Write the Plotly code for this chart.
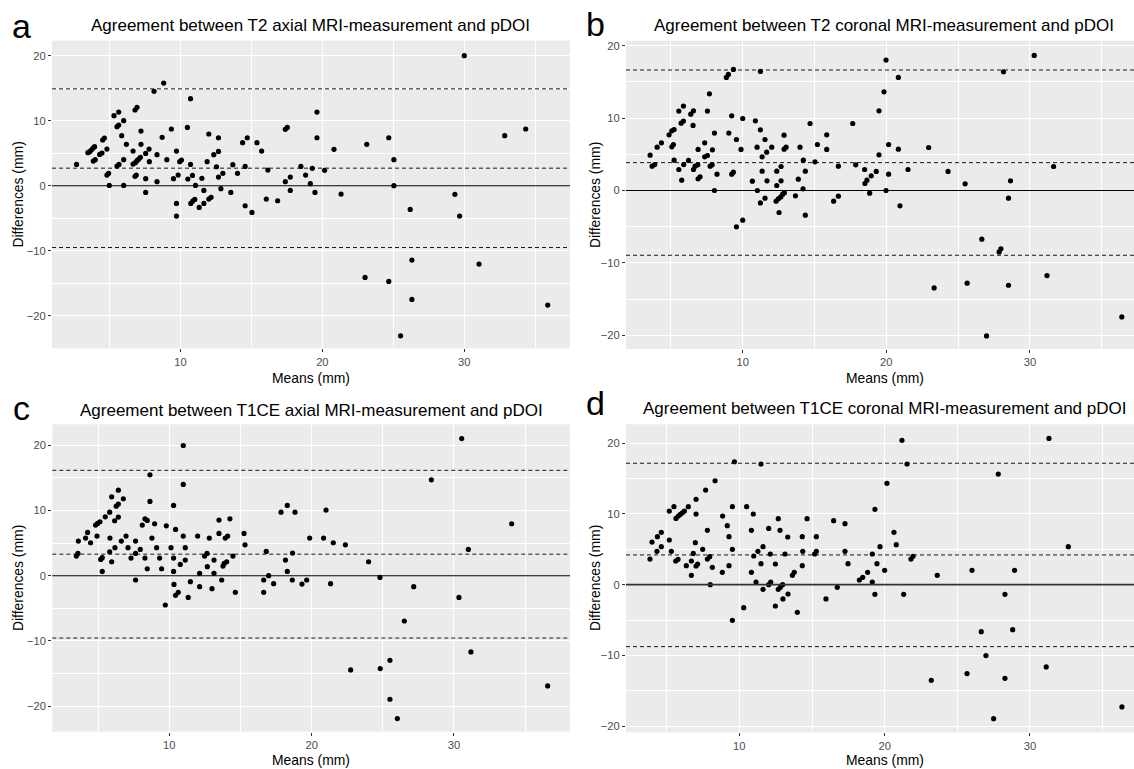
import plotly.graph_objects as go

# ---------------- data (mean, difference) ----------------
a_pairs = [(2.68,3.28),(3.48,5.08),(3.6,5.23),(3.72,5.49),(3.84,5.79),(3.95,6.0),(3.86,3.79),(4.0,4.0),
(4.31,4.82),(4.47,5.03),(4.52,7.03),(4.64,7.33),(4.82,5.64),(4.82,1.64),(4.94,1.9),(4.99,0.05),
(5.32,10.77),(5.65,11.33),(5.53,9.08),(5.65,9.33),(5.86,7.69),(6.0,10.0),(5.53,3.03),(5.67,3.28),
(6.0,4.0),(6.0,0.05),(6.19,6.36),(6.66,5.33),(6.66,3.33),(6.8,1.44),(6.89,1.64),(6.8,11.64),
(6.94,12.05),(6.82,3.54),(6.94,3.85),(7.06,4.1),(7.18,4.36),(7.22,8.41),(7.22,6.36),(7.55,4.97),
(7.79,5.64),(7.81,3.69),(7.55,1.08),(7.55,-1.03),(8.14,14.51),(8.82,15.79),(8.35,4.77),(8.35,0.62),
(8.71,7.44),(9.04,4.0),(9.36,8.72),(9.51,1.08),(9.72,5.33),(9.84,1.64),(9.72,-2.72),(9.72,-4.67),
(9.95,3.69),(10.07,3.95),(10.49,8.97),(10.71,13.38),(10.71,3.28),(10.52,1.03),(10.85,1.59),(11.06,0.05),
(10.73,-2.72),(10.87,-2.36),(11.01,-2.1),(11.32,-3.33),(11.51,1.13),(11.65,-0.72),(11.65,-2.72),(11.88,3.69),
(12.0,7.95),(12.0,-2.05),(12.16,-1.79),(12.35,4.77),(12.54,2.92),(12.68,7.38),(12.68,5.28),(12.68,1.33),
(12.99,1.9),(12.85,-0.46),(13.55,-1.03),(13.69,3.23),(14.02,1.9),(14.38,6.62),(14.71,7.38),(14.56,2.97),
(14.56,-3.08),(15.04,-4.1),(15.39,6.62),(15.72,5.33),(16.16,2.41),(16.05,-2.05),(16.85,-2.31),(17.39,8.67),
(17.53,8.97),(17.39,0.62),(17.74,1.33),(17.74,-0.72),(19.62,11.33),(19.62,7.38),(20.82,5.59),(18.49,2.97),
(19.29,2.67),(20.16,2.36),(18.82,1.64),(19.15,0.31),(19.48,-1.03),(21.32,-1.28),(23.13,6.36),(24.68,7.38),
(25.04,4.0),(25.04,0.0),(26.19,-3.64),(29.34,-1.33),(29.67,-4.67),(30.0,20.0),(32.85,7.69),(34.33,8.72),
(26.31,-11.44),(31.04,-12.05),(23.01,-14.1),(24.68,-14.72),(26.31,-17.49),(35.88,-18.36),(25.51,-23.08)]

b_pairs = [(3.55,4.88),(3.69,3.36),(3.87,3.59),(4.04,5.99),(4.34,6.59),(4.87,7.7),(5.06,8.25),(5.22,8.43),
(5.06,6.04),(5.17,6.36),(5.22,4.19),(5.55,10.97),(5.87,11.66),(5.71,9.31),(5.87,9.59),(5.55,2.9),
(5.75,1.43),(5.89,3.59),(6.22,4.15),(6.38,10.55),(6.57,11.01),(6.54,8.99),(6.57,2.9),(6.68,3.36),
(6.87,3.55),(6.89,5.67),(6.89,1.61),(7.03,1.89),(7.35,6.59),(7.35,4.65),(7.54,4.84),(7.68,13.36),
(7.54,10.97),(7.73,3.36),(7.87,3.55),(7.89,5.62),(8.03,7.93),(8.21,2.26),(8.03,0.0),(8.86,15.62),
(9.0,16.04),(9.35,16.73),(9.03,7.93),(9.23,10.32),(9.23,2.26),(9.35,2.53),(9.56,7.05),(9.88,5.67),
(10.0,9.95),(9.56,-5.02),(10.0,-4.1),(10.67,1.29),(10.88,9.63),(11.0,5.99),(11.02,0.0),(11.23,16.45),
(11.23,8.39),(11.35,2.67),(11.35,4.65),(11.55,7.05),(11.67,5.3),(11.23,-1.71),(11.55,-1.06),(11.69,1.34),
(12.02,5.99),(12.37,0.69),(12.37,2.67),(12.67,3.32),(12.67,1.34),(12.32,-1.47),(12.48,-1.15),(12.65,-0.88),
(12.78,-0.51),(12.9,-0.32),(12.53,-3.04),(12.88,7.65),(12.88,5.71),(13.02,5.99),(13.67,-0.74),(13.87,1.57),
(13.99,5.99),(14.2,0.23),(14.22,4.19),(14.36,2.67),(14.36,-3.41),(14.69,9.26),(15.03,3.96),(15.2,6.36),
(15.85,7.7),(15.85,5.67),(16.33,-1.47),(16.66,-0.78),(16.66,3.36),(17.66,9.26),(17.87,3.55),
(19.98,18.02),(20.84,15.62),(19.84,13.64),(19.49,11.01),(20.16,6.36),(20.84,5.71),(19.49,4.93),(18.49,2.9),
(19.3,2.63),(18.95,2.03),(18.65,1.43),(18.51,0.97),(20.16,2.26),(21.51,2.9),(18.84,-0.37),(19.98,0.0),
(20.95,-2.12),(22.95,5.94),(24.3,2.63),(25.49,0.92),(28.16,16.41),(30.3,18.66),(31.65,3.32),(28.65,1.34),
(28.51,-1.06),(26.65,-6.73),(27.86,-8.48),(27.98,-8.06),(23.33,-13.46),(25.63,-12.81),(28.51,-13.09),
(31.19,-11.75),(26.98,-20.09),(36.4,-17.47)]

c_pairs = [(3.47,3.01),(3.58,3.42),(3.61,5.31),(4.12,5.77),(4.26,6.63),(4.47,5.05),(4.82,7.76),(4.92,6.07),
(4.96,8.01),(5.13,8.27),(5.18,2.5),(5.29,2.76),(5.29,0.66),(5.5,9.03),(5.81,9.74),(5.83,5.77),
(5.81,3.67),(5.95,2.14),(5.95,12.09),(6.16,8.42),(6.18,4.29),(6.27,10.66),(6.42,13.11),(6.42,10.97),
(6.42,8.98),(6.63,5.31),(6.77,11.79),(6.96,6.07),(7.1,4.29),(7.31,2.7),(7.63,5.31),(7.63,3.42),
(7.63,-0.66),(7.96,4.03),(8.1,7.76),(8.29,8.72),(8.45,8.47),(8.29,2.7),(8.45,1.07),(8.64,15.46),
(8.64,11.38),(8.78,5.77),(8.97,7.96),(9.11,4.29),(9.32,2.7),(9.46,1.07),(9.79,7.65),(9.72,-4.49),
(10.12,4.29),(10.3,10.77),(10.3,2.7),(10.3,0.66),(10.33,-1.33),(10.44,7.09),(10.44,-3.01),(10.63,-2.55),
(10.77,1.73),(10.98,19.95),(10.98,13.98),(10.98,6.07),(11.12,4.29),(11.12,2.4),(11.33,-3.32),(11.48,-0.92),
(11.99,6.07),(12.13,0.36),(12.13,-1.68),(12.48,3.01),(12.65,3.42),(12.67,1.38),(12.81,5.77),(13.0,-1.99),
(13.14,2.4),(13.14,0.36),(13.49,6.48),(13.49,8.52),(13.68,-0.66),(13.77,1.48),(13.86,1.89),(13.93,5.77),
(14.03,2.14),(14.1,6.07),(14.26,8.72),(14.47,3.01),(14.64,-2.55),(15.25,6.48),(15.32,4.74),(16.63,-0.66),
(16.63,-2.55),(16.81,3.72),(16.98,0.0),(17.33,-1.22),(17.85,9.74),(18.29,10.77),(18.83,9.74),(18.16,2.4),
(18.29,0.66),(18.64,-0.66),(18.66,3.47),(19.32,-1.28),(19.65,-0.66),(19.86,5.77),(20.84,5.77),(21.01,10.05),
(21.52,5.05),(22.37,4.74),(21.33,-1.22),(24.0,2.14),(24.8,-0.26),(27.17,-1.68),(26.51,-6.94),(28.41,14.69),
(30.54,21.02),(31.01,4.03),(30.35,-3.32),(34.05,7.96),(31.19,-11.68),(22.74,-14.44),(24.82,-14.23),
(25.5,-12.96),(25.5,-18.93),(26.02,-21.89),(36.58,-16.89)]

d_pairs = [(3.85,3.62),(3.99,6.02),(4.33,4.71),(4.36,6.78),(4.63,7.39),(4.63,5.36),(5.18,10.4),(5.18,6.31),
(5.32,4.71),(5.5,11.01),(5.62,3.34),(5.78,3.58),(5.64,9.36),(5.8,9.69),(5.94,9.93),(6.08,10.16),
(6.22,10.4),(6.35,2.68),(6.49,11.01),(6.7,1.32),(6.7,3.34),(6.83,4.42),(6.97,5.93),(7.02,12.05),
(7.02,9.98),(7.02,2.64),(7.13,2.92),(7.48,4.99),(7.68,13.36),(7.8,7.67),(7.8,3.62),(7.96,3.95),
(8.0,0.0),(8.14,2.45),(8.33,14.68),(8.83,1.74),(8.85,9.69),(9.17,8.33),(9.29,6.78),(9.29,2.68),
(9.52,11.01),(9.52,4.99),(9.52,-5.04),(9.66,17.36),(10.3,-3.25),(10.5,11.01),(10.83,7.67),(10.83,1.74),
(10.96,9.98),(10.99,4.05),(11.15,0.38),(11.28,4.71),(11.49,17.04),(11.49,2.96),(11.63,5.36),(11.63,-0.66),
(12.02,7.95),(12.02,0.0),(12.13,4.33),(12.16,0.38),(12.48,2.92),(12.48,-3.01),(12.68,9.32),(12.68,-0.66),
(12.8,7.67),(12.82,-0.38),(12.98,0.0),(13.0,-2.02),(13.14,4.33),(13.33,6.73),(13.35,-1.32),(13.65,1.32),
(13.78,1.74),(13.99,-3.91),(14.33,6.78),(14.36,4.71),(14.33,2.68),(14.66,9.32),(15.18,4.33),(15.3,4.71),
(15.3,6.78),(15.96,-2.02),(16.49,9.04),(16.74,-0.38),(17.27,8.61),(17.27,4.71),(17.48,2.96),(18.26,0.66),
(18.49,1.04),(18.83,1.74),(19.15,4.33),(19.15,0.38),(19.33,-1.36),(19.33,10.64),(19.47,2.96),(19.68,5.36),
(20.0,2.02),(20.16,14.31),(20.64,7.39),(20.8,5.65),(21.19,20.38),(21.54,17.04),(21.31,-1.36),(21.81,3.62),
(21.95,4.0),(23.62,1.32),(26.01,2.02),(28.94,2.02),(27.82,15.62),(31.31,20.66),(32.64,5.36),(28.28,-1.36),
(26.65,-6.64),(28.81,-6.35),(26.97,-10.02),(23.21,-13.51),(25.67,-12.56),(28.28,-13.22),(31.12,-11.62),
(27.5,-18.92),(36.33,-17.27)]

panel_letters = ["a", "b", "c", "d"]
panel_titles = [
    "Agreement between T2 axial MRI-measurement and pDOI",
    "Agreement between T2 coronal MRI-measurement and pDOI",
    "Agreement between T1CE axial MRI-measurement and pDOI",
    "Agreement between T1CE coronal MRI-measurement and pDOI",
]
bias = [2.7, 3.85, 3.3, 4.2]          # mean difference (middle dashed line)
upper_loa = [14.9, 16.65, 16.15, 17.15]
lower_loa = [-9.5, -8.95, -9.55, -8.75]
x_title = "Means (mm)"
y_title = "Differences (mm)"

# ---------------- layout geometry (pixels) ----------------
W, H = 1134, 769
FONT = "Liberation Sans, Arial, sans-serif"

def px_x(p):
    return p / W

def px_y(p):
    return 1 - p / H

panels = [
    dict(pairs=a_pairs, x=(52, 570), y=(40.7, 348.3), xr=[0.95, 37.45], yr=[-25.0, 22.3],
         title_xy=(310, 26), letter_xy=(21, 26), xt_xy=(311, 378), yt_xy=(18, 194.5), zw=1.1, zc="black"),
    dict(pairs=b_pairs, x=(626, 1134), y=(40.7, 349.0), xr=[1.87, 37.25], yr=[-21.9, 20.7],
         title_xy=(884, 25), letter_xy=(595, 24), xt_xy=(885, 378), yt_xy=(595, 195), zw=1.1, zc="black"),
    dict(pairs=c_pairs, x=(52.3, 570), y=(424.3, 731.7), xr=[1.78, 38.15], yr=[-23.9, 23.2],
         title_xy=(311, 410), letter_xy=(21.5, 408), xt_xy=(311, 760), yt_xy=(18, 578), zw=1.1, zc="black"),
    dict(pairs=d_pairs, x=(626, 1134), y=(424.3, 732.3), xr=[2.2, 37.16], yr=[-20.85, 22.65],
         title_xy=(884, 408), letter_xy=(595, 403), xt_xy=(885, 760), yt_xy=(595, 578), zw=1.7, zc="#333333"),
]

fig = go.Figure()
layout = dict(
    width=W, height=H,
    margin=dict(l=0, r=0, t=0, b=0),
    paper_bgcolor="white",
    plot_bgcolor="#EBEBEB",
    showlegend=False,
    font=dict(family=FONT, color="#000000"),
)
annotations = []
shapes = []

for i, p in enumerate(panels):
    k = "" if i == 0 else str(i + 1)
    xa, ya = "x" + k, "y" + k
    xs = [m for m, d in p["pairs"]]
    ys = [d for m, d in p["pairs"]]
    fig.add_trace(go.Scatter(
        x=xs, y=ys, mode="markers", xaxis=xa, yaxis=ya,
        marker=dict(color="black", size=5.2, line=dict(width=0)),
        hoverinfo="skip",
    ))
    common = dict(
        showgrid=True, gridcolor="white", gridwidth=1.1,
        zeroline=False, showline=False,
        ticks="outside", ticklen=3, tickwidth=1, tickcolor="#333333",
        tickfont=dict(family=FONT, size=11.2, color="#4D4D4D"),
        dtick=10, tick0=0,
        minor=dict(dtick=5, tick0=0, showgrid=True, gridcolor="white", gridwidth=0.55, ticks=""),
    )
    layout["xaxis" + k] = dict(common, domain=[px_x(p["x"][0]), px_x(p["x"][1])],
                               range=p["xr"], anchor=ya)
    layout["yaxis" + k] = dict(common, domain=[px_y(p["y"][1]), px_y(p["y"][0])],
                               range=p["yr"], anchor=xa)
    # reference lines
    shapes.append(dict(type="line", xref=xa + " domain", yref=ya, x0=0, x1=1,
                       y0=0, y1=0, line=dict(color=p["zc"], width=p["zw"]), layer="above"))
    for val in (bias[i], upper_loa[i], lower_loa[i]):
        shapes.append(dict(type="line", xref=xa + " domain", yref=ya, x0=0, x1=1,
                           y0=val, y1=val, line=dict(color="black", width=0.9, dash="4px,3px"),
                           layer="above"))
    # texts
    annotations.append(dict(text=panel_titles[i], xref="paper", yref="paper",
                            x=px_x(p["title_xy"][0]), y=px_y(p["title_xy"][1]),
                            xanchor="center", yanchor="middle", showarrow=False,
                            font=dict(family=FONT, size=17, color="black")))
    annotations.append(dict(text=panel_letters[i], xref="paper", yref="paper",
                            x=px_x(p["letter_xy"][0]), y=px_y(p["letter_xy"][1]),
                            xanchor="center", yanchor="middle", showarrow=False,
                            font=dict(family=FONT, size=34, color="black")))
    annotations.append(dict(text=x_title, xref="paper", yref="paper",
                            x=px_x(p["xt_xy"][0]), y=px_y(p["xt_xy"][1]),
                            xanchor="center", yanchor="middle", showarrow=False,
                            font=dict(family=FONT, size=13.9, color="black")))
    annotations.append(dict(text=y_title, xref="paper", yref="paper", textangle=-90,
                            x=px_x(p["yt_xy"][0]), y=px_y(p["yt_xy"][1]),
                            xanchor="center", yanchor="middle", showarrow=False,
                            font=dict(family=FONT, size=13.9, color="black")))

layout["annotations"] = annotations
layout["shapes"] = shapes
fig.update_layout(**layout)
fig.write_html("out.html", config={"displayModeBar": False},
               post_script="document.body.style.margin='0';")
